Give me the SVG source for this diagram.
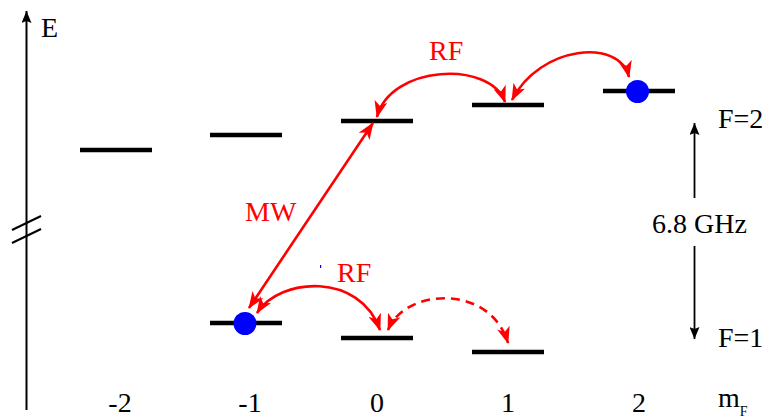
<svg xmlns="http://www.w3.org/2000/svg" width="777" height="418" viewBox="0 0 777 418">
<style>
.t{font-family:"Liberation Serif","DejaVu Serif",serif;font-size:28px;}
.red{fill:#ff0000;}
.blk{fill:#000;}
.lvl{stroke:#000;stroke-width:4.5;fill:none;}
.arr{stroke:#ff0000;stroke-width:2.6;fill:none;}
.dash{stroke-dasharray:9,6;}
.dot{fill:#0000ff;}
</style>
<defs>
<marker id="rh" viewBox="0 0 17 13" refX="16" refY="6.5" markerWidth="17" markerHeight="13" markerUnits="userSpaceOnUse" orient="auto-start-reverse">
<path d="M0,0 L17,6.5 L0,13 L4.5,6.5 Z" fill="#ff0000"/>
</marker>
<marker id="bh" viewBox="0 0 12 10" refX="12" refY="5" markerWidth="12" markerHeight="10" markerUnits="userSpaceOnUse" orient="auto-start-reverse">
<path d="M0,0 L12,5 L0,10 L2,5 Z" fill="#000"/>
</marker>
</defs>
<g id="axis">
<line x1="26.5" y1="410" x2="26.5" y2="11" stroke="#000" stroke-width="2" marker-end="url(#bh)"/>
<line x1="12" y1="230" x2="41" y2="216" stroke="#000" stroke-width="2"/>
<line x1="12" y1="243" x2="41" y2="229" stroke="#000" stroke-width="2"/>
<text x="41" y="37" class="t blk">E</text>
</g>
<g id="levels-F2">
<line id="lvl-F2-m-2" class="lvl" x1="80" y1="150" x2="152" y2="150"/>
<line id="lvl-F2-m-1" class="lvl" x1="210" y1="135" x2="282" y2="135"/>
<line id="lvl-F2-m0" class="lvl" x1="341" y1="121" x2="413" y2="121"/>
<line id="lvl-F2-m1" class="lvl" x1="472" y1="105" x2="544" y2="105"/>
<line id="lvl-F2-m2" class="lvl" x1="603" y1="91" x2="675" y2="91"/>
</g>
<g id="levels-F1">
<line id="lvl-F1-m-1" class="lvl" x1="210" y1="323" x2="282" y2="323"/>
<line id="lvl-F1-m0" class="lvl" x1="341" y1="338" x2="413" y2="338"/>
<line id="lvl-F1-m1" class="lvl" x1="472" y1="352" x2="544" y2="352"/>
</g>
<g id="atoms">
<circle id="atom-F2-m2" class="dot" cx="637.5" cy="91.5" r="11.5"/>
<circle id="atom-F1-m-1" class="dot" cx="245" cy="323.5" r="11.5"/>
<rect x="320" y="265" width="1.2" height="3" fill="#0000ff"/>
</g>
<g id="connectors">
<line class="arr" x1="249" y1="308" x2="373" y2="123" marker-start="url(#rh)" marker-end="url(#rh)"/>
<path class="arr" d="M377,117 C390,65 490,60 505,102" marker-start="url(#rh)" marker-end="url(#rh)"/>
<path class="arr" d="M512,100 C540,45 620,38 629,77" marker-start="url(#rh)" marker-end="url(#rh)"/>
<path class="arr" d="M257,313 C280,277 360,272 380,330" marker-start="url(#rh)" marker-end="url(#rh)"/>
<path class="arr dash" d="M388,330 C405,288 490,283 508,343" marker-start="url(#rh)" marker-end="url(#rh)"/>
<line x1="694.5" y1="198" x2="694.5" y2="123" stroke="#000" stroke-width="1.8" marker-end="url(#bh)"/>
<line x1="694.5" y1="246" x2="694.5" y2="339" stroke="#000" stroke-width="1.8" marker-end="url(#bh)"/>
</g>
<g id="labels">
<text x="429" y="60" class="t red">RF</text>
<text x="337" y="282" class="t red">RF</text>
<text x="245" y="221" class="t red">MW</text>
<text x="652" y="233" class="t blk">6.8 GHz</text>
<text x="718" y="128" class="t blk">F=2</text>
<text x="718" y="347" class="t blk">F=1</text>
<text x="718" y="407" class="t blk">m<tspan font-size="14" dy="9">F</tspan></text>
<text x="120" y="412" class="t blk" text-anchor="middle">-2</text>
<text x="250" y="412" class="t blk" text-anchor="middle">-1</text>
<text x="377" y="412" class="t blk" text-anchor="middle">0</text>
<text x="508" y="412" class="t blk" text-anchor="middle">1</text>
<text x="639" y="412" class="t blk" text-anchor="middle">2</text>
</g>
</svg>
